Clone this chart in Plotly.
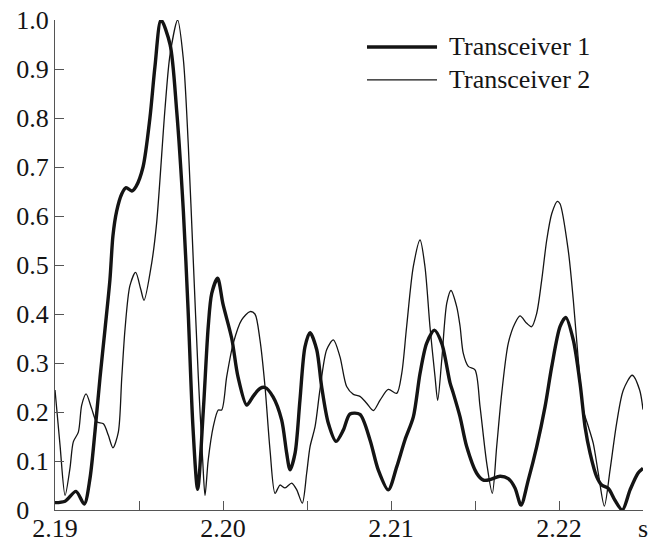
import plotly.graph_objects as go

# Time axis (s) and normalised amplitude for each transceiver
t1 = [2.19000, 2.19060, 2.19125, 2.19174, 2.19208, 2.19238, 2.19268, 2.19298,
      2.19327, 2.19345, 2.19367, 2.19397, 2.19423, 2.19457, 2.19482, 2.19524,
      2.19565, 2.19595, 2.19631, 2.19685, 2.19724, 2.19764, 2.19792, 2.19821,
      2.19849, 2.19883, 2.19912, 2.19933, 2.19968, 2.20000, 2.20052, 2.20089,
      2.20141, 2.20179, 2.20220, 2.20250, 2.20298, 2.20349, 2.20379, 2.20399,
      2.20429, 2.20458, 2.20488, 2.20518, 2.20558, 2.20587, 2.20627, 2.20673,
      2.20716, 2.20756, 2.20815, 2.20875, 2.20924, 2.20984, 2.21034, 2.21083,
      2.21133, 2.21173, 2.21212, 2.21258, 2.21302, 2.21351, 2.21371, 2.21411,
      2.21450, 2.21510, 2.21550, 2.21589, 2.21649, 2.21698, 2.21738, 2.21774,
      2.21817, 2.21867, 2.21917, 2.21957, 2.22006, 2.22040, 2.22085, 2.22125,
      2.22155, 2.22185, 2.22224, 2.22254, 2.22294, 2.22333, 2.22377, 2.22423,
      2.22470, 2.22500]
a1 = [0.015, 0.018, 0.038, 0.012, 0.064, 0.160, 0.270, 0.370,
      0.470, 0.560, 0.610, 0.645, 0.658, 0.651, 0.660, 0.700,
      0.800, 0.905, 1.000, 0.950, 0.816, 0.610, 0.410, 0.170,
      0.042, 0.204, 0.374, 0.442, 0.473, 0.420, 0.350, 0.272,
      0.214, 0.232, 0.248, 0.250, 0.231, 0.184, 0.116, 0.082,
      0.116, 0.224, 0.333, 0.362, 0.327, 0.252, 0.177, 0.140,
      0.163, 0.196, 0.195, 0.143, 0.082, 0.041, 0.088, 0.143,
      0.190, 0.279, 0.340, 0.367, 0.340, 0.260, 0.238, 0.190,
      0.130, 0.075, 0.061, 0.062, 0.069, 0.064, 0.045, 0.010,
      0.061, 0.129, 0.211, 0.293, 0.374, 0.393, 0.347, 0.259,
      0.170, 0.116, 0.068, 0.051, 0.044, 0.020, 0.000, 0.041,
      0.075, 0.085]

t2 = [2.19000, 2.19030, 2.19060, 2.19089, 2.19109, 2.19139, 2.19159, 2.19185,
      2.19218, 2.19248, 2.19288, 2.19317, 2.19345, 2.19377, 2.19397, 2.19417,
      2.19446, 2.19480, 2.19510, 2.19530, 2.19576, 2.19605, 2.19655, 2.19685,
      2.19730, 2.19764, 2.19793, 2.19823, 2.19853, 2.19879, 2.19893, 2.19912,
      2.19942, 2.19972, 2.19992, 2.20022, 2.20061, 2.20111, 2.20161, 2.20190,
      2.20220, 2.20250, 2.20280, 2.20310, 2.20339, 2.20369, 2.20409, 2.20439,
      2.20472, 2.20498, 2.20518, 2.20548, 2.20577, 2.20617, 2.20657, 2.20696,
      2.20736, 2.20776, 2.20815, 2.20855, 2.20895, 2.20935, 2.20984, 2.21034,
      2.21064, 2.21093, 2.21133, 2.21173, 2.21202, 2.21232, 2.21262, 2.21278,
      2.21302, 2.21332, 2.21357, 2.21391, 2.21411, 2.21430, 2.21460, 2.21500,
      2.21530, 2.21570, 2.21603, 2.21629, 2.21659, 2.21698, 2.21738, 2.21768,
      2.21808, 2.21837, 2.21867, 2.21897, 2.21927, 2.21957, 2.21990, 2.22006,
      2.22055, 2.22085, 2.22115, 2.22145, 2.22175, 2.22204, 2.22234, 2.22270,
      2.22304, 2.22343, 2.22383, 2.22436, 2.22480, 2.22500]
a2 = [0.245, 0.132, 0.030, 0.085, 0.139, 0.159, 0.214, 0.237,
      0.207, 0.180, 0.176, 0.153, 0.127, 0.159, 0.268, 0.370,
      0.458, 0.485, 0.451, 0.428, 0.505, 0.586, 0.820, 0.930,
      1.000, 0.920, 0.748, 0.510, 0.272, 0.102, 0.030, 0.102,
      0.170, 0.204, 0.204, 0.272, 0.340, 0.388, 0.405, 0.400,
      0.347, 0.252, 0.122, 0.034, 0.051, 0.045, 0.055, 0.041,
      0.014, 0.075, 0.129, 0.170, 0.245, 0.327, 0.347, 0.313,
      0.252, 0.236, 0.232, 0.218, 0.203, 0.224, 0.246, 0.238,
      0.279, 0.374, 0.497, 0.551, 0.497, 0.374, 0.272, 0.224,
      0.306, 0.422, 0.448, 0.415, 0.375, 0.320, 0.293, 0.286,
      0.211, 0.095, 0.034, 0.129, 0.238, 0.340, 0.381, 0.396,
      0.381, 0.374, 0.401, 0.469, 0.551, 0.605, 0.630, 0.625,
      0.530, 0.429, 0.306, 0.204, 0.170, 0.136, 0.075, 0.008,
      0.082, 0.177, 0.245, 0.275, 0.245, 0.205]

series_names = ["Transceiver 1", "Transceiver 2"]

x_ticks = [2.190, 2.195, 2.200, 2.205, 2.210, 2.215, 2.220, 2.225]
x_labels = ["2.19", "", "2.20", "", "2.21", "", "2.22", "s"]
y_ticks = [0, 0.1, 0.2, 0.3, 0.4, 0.5, 0.6, 0.7, 0.8, 0.9, 1.0]
# the zero label is padded so it lines up with the left edge of the others
y_labels = ["0\u2007\u2008", "0.1", "0.2", "0.3", "0.4", "0.5", "0.6",
            "0.7", "0.8", "0.9", "1.0"]

FONT = "Liberation Serif, Times New Roman, Times, serif"
INK = "#141414"
widths = [3.4, 1.3]

fig = go.Figure()
for t, a, w, name in zip([t1, t2], [a1, a2], widths, series_names):
    fig.add_trace(go.Scatter(
        x=t, y=a, mode="lines", name=name,
        line=dict(color=INK, width=w, shape="spline", smoothing=0.8),
        showlegend=False,
    ))

# Hand-placed key in the upper right corner
key_y = [0.945, 0.878]
for yk, w, name in zip(key_y, widths, series_names):
    fig.add_shape(type="line", xref="paper", yref="paper",
                  x0=0.5306, x1=0.6497, y0=yk, y1=yk,
                  line=dict(color=INK, width=w))
    fig.add_annotation(xref="paper", yref="paper", x=0.666, y=yk,
                       text=name, showarrow=False, xanchor="left",
                       yanchor="middle",
                       font=dict(family=FONT, size=26, color=INK))

axis_common = dict(
    showgrid=False, zeroline=False, showline=True, automargin=False,
    linecolor="#555555", linewidth=1.3,
    ticks="inside", ticklen=9, tickwidth=1.3, tickcolor="#555555",
    tickfont=dict(family=FONT, size=26, color=INK),
)

fig.update_xaxes(range=[2.19, 2.225], tickmode="array",
                 tickvals=x_ticks, ticktext=x_labels,
                 ticklabelstandoff=-5, **axis_common)
fig.update_yaxes(range=[0, 1.0], tickmode="array",
                 tickvals=y_ticks, ticktext=y_labels, **axis_common)

fig.update_layout(
    width=658, height=544,
    margin=dict(l=55, r=15, t=20, b=34),
    paper_bgcolor="white", plot_bgcolor="white",
)

fig.write_html("out.html")
